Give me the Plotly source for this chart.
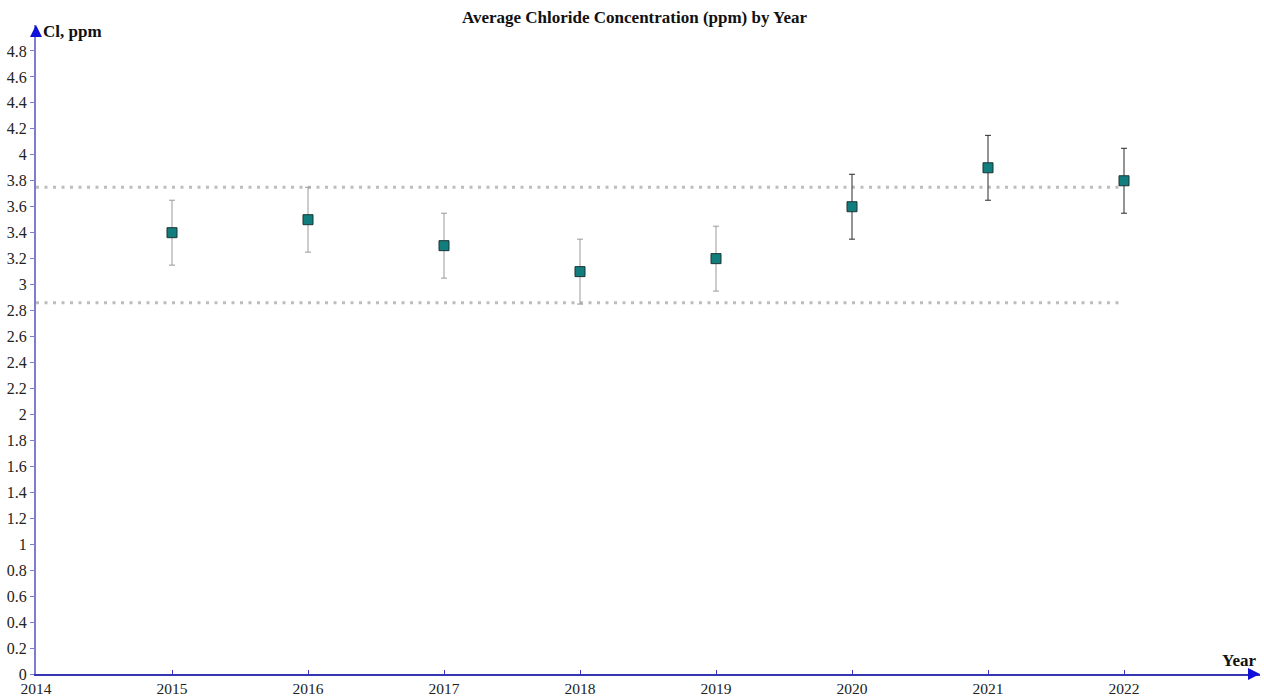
import plotly.graph_objects as go

# Yearly averages of chloride (ppm) with their uncertainty
years = [2015, 2016, 2017, 2018, 2019, 2020, 2021, 2022]
mean_cl = [3.4, 3.5, 3.3, 3.1, 3.2, 3.6, 3.9, 3.8]
err_cl = [0.25, 0.25, 0.25, 0.25, 0.25, 0.25, 0.25, 0.25]

# Reference band limits (dotted lines) and their span
band_levels = [3.75, 2.86]
band_span = [2014, 2022]

# Axis ticks
x_ticks = [2014, 2015, 2016, 2017, 2018, 2019, 2020, 2021, 2022]
y_ticks = [round(0.2 * i, 1) for i in range(25)]
y_ticktext = [("%g" % v) for v in y_ticks]

FONT = "Liberation Serif, Times New Roman, serif"
TEAL = "#117d7c"
AXIS_Y = "#7d7dd2"
AXIS_X = "#3535b5"
ARROW = "#1010d8"

fig = go.Figure()

for lvl in band_levels:
    fig.add_trace(go.Scatter(
        x=band_span, y=[lvl, lvl], mode="lines",
        line=dict(color="#bdbdbd", width=3, dash="3px,5.5px"),
        hoverinfo="skip", showlegend=False,
    ))

# first group of years drawn with grey whiskers, later years darker
split = 5
groups = [(slice(0, split), "#9a9a9a"), (slice(split, None), "#2a2a2a")]
for sl, ecol in groups:
    fig.add_trace(go.Scatter(
        x=years[sl], y=mean_cl[sl], mode="markers",
        marker=dict(symbol="square", size=10, color=TEAL,
                    line=dict(color="#1d3535", width=1)),
        error_y=dict(type="data", array=err_cl[sl], visible=True,
                     color=ecol, thickness=1, width=3),
        showlegend=False,
    ))

fig.update_xaxes(
    range=[2014, 2023], tickvals=x_ticks, ticktext=[str(t) for t in x_ticks],
    showgrid=False, zeroline=False, showline=True, linecolor=AXIS_X, linewidth=1.5,
    ticks="inside", ticklen=4, tickcolor=AXIS_X, tickwidth=1,
    tickfont=dict(family=FONT, size=15.5, color="#222"), automargin=False,
)
fig.update_yaxes(
    range=[0, 5.0], tickvals=y_ticks, ticktext=y_ticktext,
    showgrid=False, zeroline=False, showline=True, linecolor=AXIS_Y, linewidth=2,
    ticks="outside", ticklen=4, tickcolor=AXIS_Y, tickwidth=1,
    tickfont=dict(family=FONT, size=16, color="#222"), automargin=False,
)

annotations = [
    # axis arrowheads
    dict(x=1.0, y=0, xref="paper", yref="paper", ax=-8, ay=0, text="",
         showarrow=True, arrowhead=2, arrowsize=1.6, arrowwidth=1.5,
         arrowcolor=ARROW, xanchor="left"),
    dict(x=0, y=1.0, xref="paper", yref="paper", ax=0, ay=8, text="",
         showarrow=True, arrowhead=2, arrowsize=1.6, arrowwidth=1.5,
         arrowcolor=ARROW),
    # axis names
    dict(x=0, y=1.0, xref="paper", yref="paper", text="<b>Cl, ppm</b>",
         showarrow=False, xanchor="left", yanchor="middle", xshift=5, yshift=-6,
         font=dict(family=FONT, size=17, color="#111")),
    dict(x=1.0, y=0, xref="paper", yref="paper", text="<b>Year</b>",
         showarrow=False, xanchor="right", yanchor="bottom", xshift=-2, yshift=2,
         font=dict(family=FONT, size=17, color="#111")),
]

fig.update_layout(
    width=1264, height=698,
    margin=dict(l=36, r=4, t=25, b=24),
    paper_bgcolor="white", plot_bgcolor="white",
    title=dict(text="<b>Average Chloride Concentration (ppm) by Year</b>",
               x=0.502, xanchor="center", y=0.975, yanchor="middle",
               font=dict(family=FONT, size=17, color="#111")),
    annotations=annotations,
    showlegend=False,
)

fig.write_html("out.html")
